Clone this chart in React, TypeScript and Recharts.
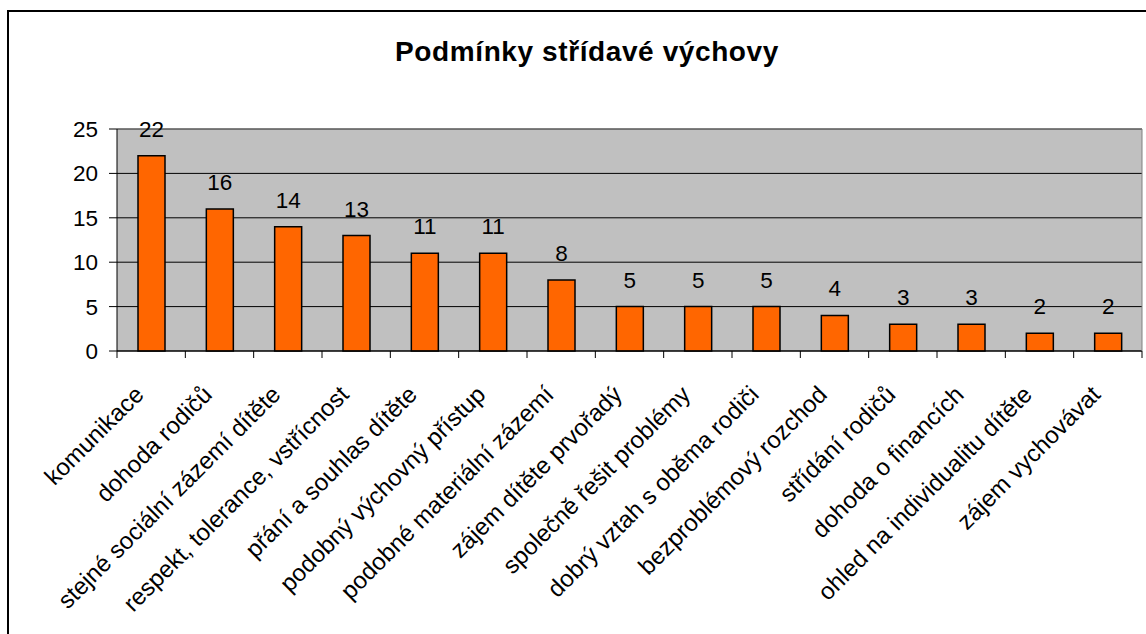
import { BarChart, Bar, XAxis, YAxis, CartesianGrid, LabelList, ReferenceLine } from 'recharts'

const categories = [
  'komunikace',
  'dohoda rodičů',
  'stejné sociální zázemí dítěte',
  'respekt, tolerance, vstřícnost',
  'přání a souhlas dítěte',
  'podobný výchovný přístup',
  'podobné materiální zázemí',
  'zájem dítěte prvořadý',
  'společně řešit problémy',
  'dobrý vztah s oběma rodiči',
  'bezproblémový rozchod',
  'střídání rodičů',
  'dohoda o financích',
  'ohled na individualitu dítěte',
  'zájem vychovávat',
]
const counts = [22, 16, 14, 13, 11, 11, 8, 5, 5, 5, 4, 3, 3, 2, 2]
const yTicks = [0, 5, 10, 15, 20, 25]

const data = categories.map((name, i) => ({ name, value: counts[i] }))

const FONT = '"Liberation Sans", Arial, sans-serif'

// popisky os: otočené o 45°, čárky mezi kategoriemi
function CategoryTick(props: any) {
  const { x, y, payload, index } = props
  const half = payload?.offset ?? 1025 / categories.length / 2
  const last = index === categories.length - 1
  const ax = x - 6
  const ay = y + 45
  return (
    <g>
      <line x1={x - half} y1={y} x2={x - half} y2={y + 7} stroke="#000" />
      {last && <line x1={x + half} y1={y} x2={x + half} y2={y + 7} stroke="#000" />}
      <text
        x={ax}
        y={ay}
        textAnchor="end"
        fontSize={24}
        fontFamily={FONT}
        fill="#000"
        transform={`rotate(-45, ${ax}, ${ay})`}
      >
        {payload.value}
      </text>
    </g>
  )
}

export default function App() {
  return (
    <div style={{ position: 'absolute', left: 0, top: 0, width: 1146, height: 634, overflow: 'hidden', background: '#fff' }}>
      <div style={{ position: 'absolute', left: 7, top: 10, width: 1300, height: 800, border: '2px solid #000' }} />
      <div
        style={{
          position: 'absolute',
          left: 8,
          top: 36,
          width: 1158,
          textAlign: 'center',
          fontFamily: FONT,
          fontWeight: 700,
          fontSize: 28,
          lineHeight: '32px',
          letterSpacing: 0.6,
          color: '#000',
        }}
      >
        Podmínky střídavé výchovy
      </div>
      <div style={{ position: 'absolute', left: 0, top: 0 }}>
        <BarChart
          width={1146}
          height={634}
          data={data}
          margin={{ top: 129, right: 0, left: 0, bottom: 253 }}
        >
          <CartesianGrid vertical={false} stroke="#000" fill="#C0C0C0" />
          <XAxis
            dataKey="name"
            interval={0}
            height={30}
            tickLine={false}
            tickSize={0}
            tickMargin={0}
            axisLine={{ stroke: '#000' }}
            tick={<CategoryTick />}
          />
          <YAxis
            width={117}
            domain={[0, 25]}
            ticks={yTicks}
            interval={0}
            tickSize={8}
            tickMargin={11}
            axisLine={{ stroke: '#000' }}
            tickLine={{ stroke: '#000' }}
            tick={{ fontSize: 22.5, fill: '#000', fontFamily: FONT }}
          />
          <YAxis
            yAxisId="right"
            orientation="right"
            width={4}
            domain={[0, 25]}
            tick={false}
            tickLine={false}
            axisLine={{ stroke: '#808080' }}
          />
          <ReferenceLine y={25} stroke="#808080" />
          <Bar dataKey="value" fill="#FF6600" stroke="#000" strokeWidth={1.5} barSize={27} isAnimationActive={false}>
            <LabelList dataKey="value" position="top" offset={19} fill="#000" fontSize={22.5} fontFamily={FONT} />
          </Bar>
        </BarChart>
      </div>
    </div>
  )
}
